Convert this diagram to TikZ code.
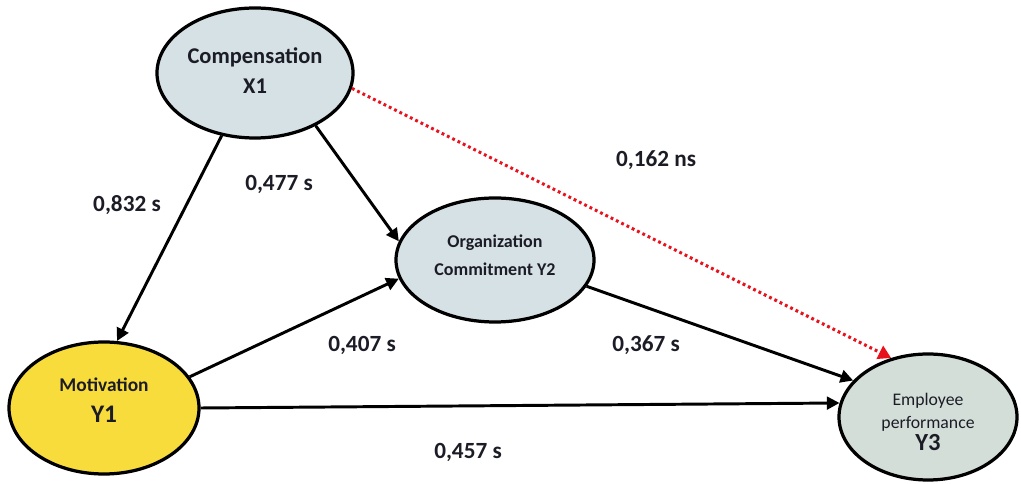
\documentclass[tikz,border=0pt]{standalone}
\usepackage{fontspec}
\setmainfont{Carlito}
\usepackage{xcolor}
\usetikzlibrary{shapes, arrows.meta, positioning}
\definecolor{grisazul}{HTML}{D5E1E4}
\definecolor{grisverde}{HTML}{D4DED8}
\definecolor{amarillo}{HTML}{F8DC3C}
\definecolor{rojo}{HTML}{E8121C}
\definecolor{tinta}{HTML}{1C1C26}

\begin{document}
\begin{tikzpicture}[
    constructo/.style={ellipse, draw=black, line width=2.3pt, inner sep=0pt, align=center, text=tinta},
    flecha/.style={line width=2.1pt, -{Triangle[length=9pt,width=9pt]}},
    coef/.style={font=\fontsize{16.5}{18}\selectfont\bfseries, text=tinta}
    ]
        \useasboundingbox (0,0) rectangle (25.525,12.1);
        % Variables
        \node[constructo, fill=grisazul, minimum width=4.9cm, minimum height=3.25cm, text depth=3.5pt,
              font=\fontsize{16}{21}\selectfont\bfseries] (comp) at (6.375,10.275) {Compensation\\X1};
        \node[constructo, fill=amarillo, minimum width=4.75cm, minimum height=3.3cm, text depth=11pt,
              font=\fontsize{13.8}{22}\selectfont\bfseries] (motiv) at (2.6,1.9) {Motivation\\{\fontsize{18}{22}\selectfont Y1}};
        \node[constructo, fill=grisazul, minimum width=4.95cm, minimum height=3.1cm, text depth=6.5pt,
              font=\fontsize{12.8}{20}\selectfont\bfseries] (orgcom) at (12.375,5.6) {Organization\\Commitment Y2};
        \node[constructo, fill=grisverde, minimum width=4.45cm, minimum height=3.15cm,
              font=\fontsize{12.6}{16}\selectfont] (desemp) at (23.2,1.675) {\rule{0pt}{16pt}Employee\\performance\\{\fontsize{17.5}{17}\selectfont\bfseries Y3}};
        % Flechas
        \draw[flecha] (comp.242) -- (motiv.79);
        \draw[flecha] (comp.319) -- (orgcom.169);
        \draw[flecha] (motiv.20) -- (orgcom.191);
        \draw[flecha] (motiv.0) -- (desemp.171);
        \draw[flecha] (orgcom.344) -- (desemp.154);
        \draw[line width=2.2pt, rojo, dash pattern=on 2pt off 2.2pt, -{Triangle[length=9pt,width=10pt]}] (comp.351) -- (desemp.122);
        % Coeficientes
        \node[coef] (c1) at (3.175,6.975) {0,832 s};
        \node[coef] (c2) at (6.975,7.5) {0,477 s};
        \node[coef] (c3) at (16.4,8.1) {0,162 ns};
        \node[coef] (c4) at (9.05,3.475) {0,407 s};
        \node[coef] (c5) at (16.15,3.475) {0,367 s};
        \node[coef] (c6) at (11.7,0.8) {0,457 s};
\end{tikzpicture}
\end{document}
